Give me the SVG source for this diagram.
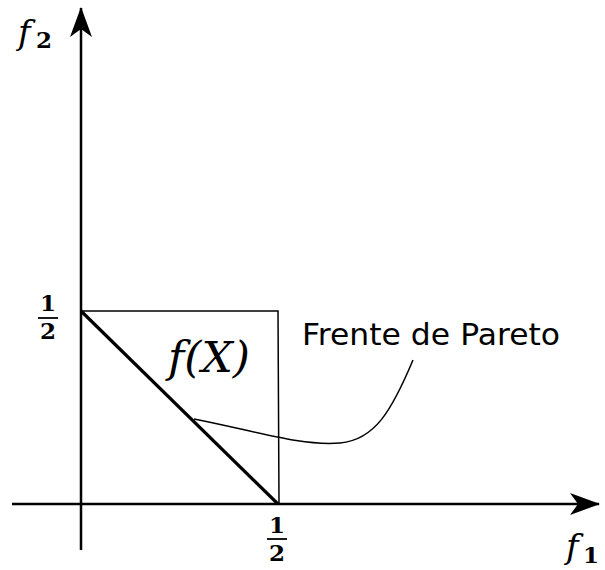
<svg xmlns="http://www.w3.org/2000/svg" width="605" height="570" viewBox="0 0 605 570">
<style>
.math{font-family:"DejaVu Serif","Liberation Serif",serif;font-style:italic;fill:#000}
.num{font-family:"DejaVu Serif","Liberation Serif",serif;font-weight:bold;fill:#000;text-anchor:middle}
.lab{font-family:"DejaVu Sans","Liberation Sans",sans-serif;fill:#000}
.axis{stroke:#000;stroke-width:2.5;fill:none}
.thin{stroke:#000;stroke-width:1.5;fill:none}
</style>
<defs>
<marker id="arrV" markerWidth="30" markerHeight="22" refX="29" refY="11" orient="auto" markerUnits="userSpaceOnUse" viewBox="0 0 30 22">
<path d="M0,0 L30,11 L0,22 L8,11 Z" fill="#000"/>
</marker>
</defs>
<g id="connectors">
<line class="axis" x1="81" y1="550" x2="81" y2="8" marker-end="url(#arrV)"/>
<line class="axis" x1="12" y1="504" x2="599" y2="504" marker-end="url(#arrV)"/>
<path class="thin" d="M194,419 C260,432 300,446 340,443 C375,440 392,410 413,360"/>
</g>
<g id="feasible">
<path class="thin" d="M81,311 L278,311 L279,504"/>
<line x1="81" y1="311" x2="278" y2="504" stroke="#000" stroke-width="3.2"/>
<text class="math" x="168" y="372" font-size="42" textLength="82" lengthAdjust="spacingAndGlyphs">f(X)</text>
</g>
<g id="pareto-label">
<text class="lab" x="302" y="345" font-size="30" textLength="258" lengthAdjust="spacingAndGlyphs">Frente de Pareto</text>
</g>
<g id="f2-label">
<text class="math" x="18" y="44" font-size="34">f</text>
<text class="num" x="44" y="48" font-size="23">2</text>
</g>
<g id="f1-label">
<text class="math" x="566" y="558" font-size="34">f</text>
<text class="num" x="591" y="563" font-size="23">1</text>
</g>
<g id="half-y">
<text class="num" x="48" y="311" font-size="23">1</text>
<line x1="38" y1="318" x2="58" y2="318" stroke="#000" stroke-width="1.8"/>
<text class="num" x="48" y="339" font-size="23">2</text>
</g>
<g id="half-x">
<text class="num" x="277" y="533" font-size="23">1</text>
<line x1="267" y1="539" x2="287" y2="539" stroke="#000" stroke-width="1.8"/>
<text class="num" x="277" y="561" font-size="23">2</text>
</g>
</svg>
